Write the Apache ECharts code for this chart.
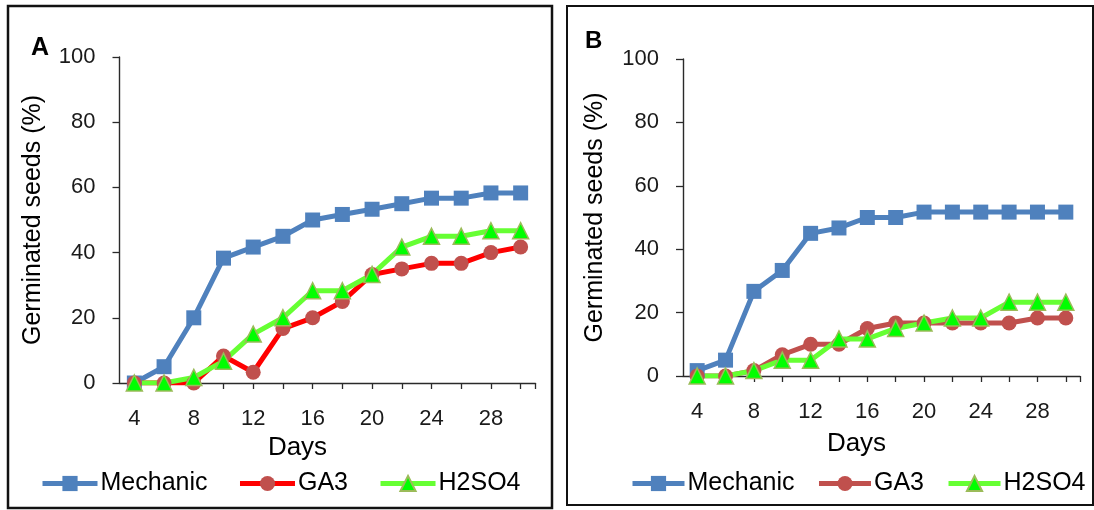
<!DOCTYPE html>
<html><head><meta charset="utf-8">
<script src="https://cdn.jsdelivr.net/npm/echarts@6/dist/echarts.min.js"></script>
<style>html,body{margin:0;padding:0;background:#fff}#c{width:1094px;height:510px}</style>
</head><body><div id="c"></div>
<script>
const days = [4,6,8,10,12,14,16,18,20,22,24,26,28,30];
const xLabels = [4,8,12,16,20,24,28];
const yTicks = [0,20,40,60,80,100];
const mechanicA = [0,5,20,38.3,41.7,45,50,51.7,53.3,55,56.7,56.7,58.3,58.3];
const ga3A = [0,0,0,8.3,3.3,16.7,20,25,33.3,35,36.7,36.7,40,41.7];
const h2so4A = [0,0,1.7,6.7,15,20,28.3,28.3,33.3,41.7,45,45,46.7,46.7];
const mechanicB = [1.7,5,26.7,33.3,45,46.7,50,50,51.7,51.7,51.7,51.7,51.7,51.7];
const ga3B = [0,0,1.7,6.7,10,10,15,16.7,16.7,16.7,16.7,16.7,18.3,18.3];
const h2so4B = [0,0,1.7,5,5,11.7,11.7,15,16.7,18.3,18.3,23.3,23.3,23.3];

const FONT = 'Liberation Sans';
const AX = '#2a2a2a';
const pts = arr => days.map((d, i) => [d, arr[i]]);

function xAxis(gi, gap, padR) {
  return {
    type: 'value', gridIndex: gi, min: 3, max: 31,
    name: 'Days', nameLocation: 'middle', nameGap: gap,
    nameTextStyle: { fontFamily: FONT, fontSize: 26, color: '#000', padding: [0, padR, 0, 0] },
    axisLine: { show: true, onZero: false, lineStyle: { color: AX, width: 1.4 } },
    axisTick: { show: true, inside: false, length: 6, customValues: days.concat([31]), lineStyle: { color: AX, width: 1.3 } },
    axisLabel: { customValues: xLabels, margin: 25, fontFamily: FONT, fontSize: 22, color: '#1a1a1a' },
    splitLine: { show: false }
  };
}
function yAxis(gi, gap) {
  return {
    type: 'value', gridIndex: gi, min: 0, max: 100,
    name: 'Germinated seeds (%)', nameLocation: 'middle', nameGap: gap,
    nameTextStyle: { fontFamily: FONT, fontSize: 25, color: '#000' },
    axisLine: { show: true, lineStyle: { color: AX, width: 1.4 } },
    axisTick: { show: true, length: 7, customValues: yTicks, lineStyle: { color: AX, width: 1.3 } },
    axisLabel: { customValues: yTicks, margin: 24, fontFamily: FONT, fontSize: 22, color: '#1a1a1a' },
    splitLine: { show: false }
  };
}
function series(name, gi, arr, lineColor, symbol, fill, size, border) {
  return {
    name, type: 'line', xAxisIndex: gi, yAxisIndex: gi, data: pts(arr),
    symbol, symbolSize: size, showAllSymbol: true,
    lineStyle: { color: lineColor, width: 5 },
    itemStyle: border ? { color: fill, borderColor: border, borderWidth: 1.5 } : { color: fill, borderWidth: 0 },
    emphasis: { disabled: true }, animation: false
  };
}
function legend(names, left, gap, w) {
  return {
    data: names, left, top: 471, padding: 0, itemGap: gap, itemWidth: w, itemHeight: 19,
    formatter: n => n.replace(/ B$/, ''),
    selectedMode: false,
    lineStyle: { width: 5 },
    textStyle: { fontFamily: FONT, fontSize: 25, color: '#000', padding: [0, 0, 0, -2] }
  };
}

const chart = echarts.init(document.getElementById('c'), null, { renderer: 'canvas' });
chart.setOption({
  animation: false,
  backgroundColor: '#fff',
  grid: [
    { left: 119.5, top: 57, width: 416, height: 326 },
    { left: 683, top: 59, width: 397, height: 317 }
  ],
  xAxis: [xAxis(0, 45, 60), xAxis(1, 55, 50)],
  yAxis: [yAxis(0, 74), yAxis(1, 75)],
  legend: [
    legend(['Mechanic', 'GA3', 'H2SO4'], 40, 30, 55),
    legend(['Mechanic B', 'GA3 B', 'H2SO4 B'], 630, 22, 52)
  ],
  series: [
    series('Mechanic', 0, mechanicA, '#4F81BD', 'rect', '#4F81BD', 15),
    series('GA3', 0, ga3A, '#FF0000', 'circle', '#C0504D', 15),
    series('H2SO4', 0, h2so4A, '#66FF33', 'triangle', '#00FF00', 16, '#9BBB59'),
    series('Mechanic B', 1, mechanicB, '#4F81BD', 'rect', '#4F81BD', 15),
    series('GA3 B', 1, ga3B, '#C0504D', 'circle', '#C0504D', 15),
    series('H2SO4 B', 1, h2so4B, '#66FF33', 'triangle', '#00FF00', 16, '#9BBB59')
  ],
  graphic: [
    { type: 'rect', shape: { x: 8, y: 6, width: 544, height: 502 }, style: { fill: 'none', stroke: '#111', lineWidth: 2.5 }, z: -1 },
    { type: 'rect', shape: { x: 567, y: 6, width: 526, height: 499 }, style: { fill: 'none', stroke: '#111', lineWidth: 2 }, z: -1 },
    { type: 'text', left: 31, top: 36, style: { text: 'A', font: 'bold 25px "Liberation Sans"', fill: '#000' } },
    { type: 'text', left: 585, top: 29, style: { text: 'B', font: 'bold 24px "Liberation Sans"', fill: '#000' } }
  ]
});
</script></body></html>
